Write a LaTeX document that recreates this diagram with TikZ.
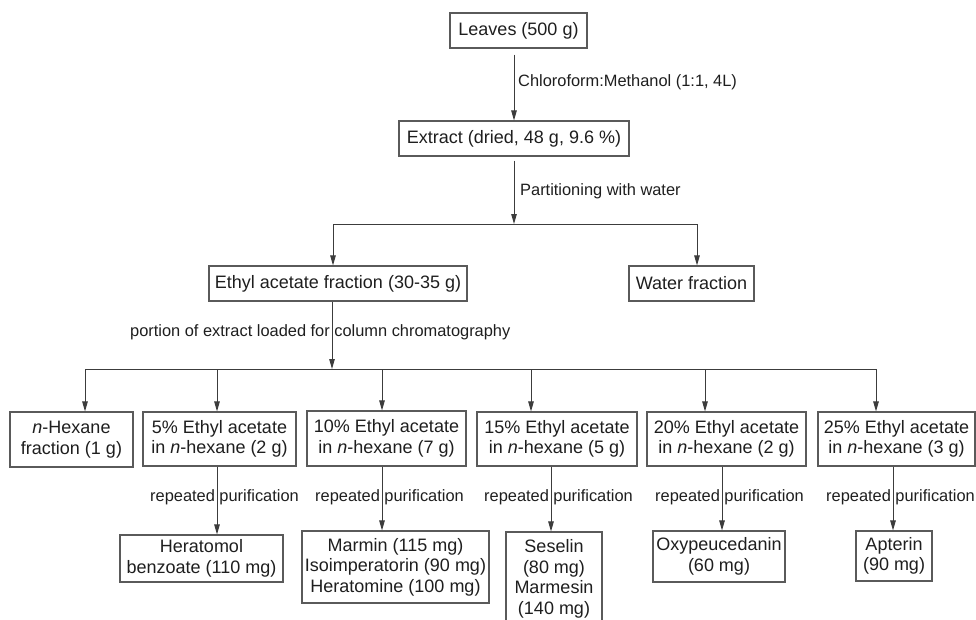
\documentclass[tikz,border=0pt]{standalone}
\usepackage{fontspec}
\setmainfont{Liberation Sans}
\usetikzlibrary{arrows.meta,calc}
\definecolor{boxc}{HTML}{5A5A5A}
\definecolor{linec}{HTML}{3C3C3C}
\definecolor{txt}{HTML}{1E1E1E}
\tikzset{
  box/.style={draw=boxc, line width=1.1pt, inner sep=0pt, align=center, text=txt, font=\fontsize{18}{20.5}\selectfont},
  lab/.style={inner sep=0pt, anchor=west, text=txt, font=\fontsize{16.4}{19}\selectfont},
  conn/.style={draw=linec, line width=1pt},
  arr/.style={conn, -{Triangle[length=10pt,width=5.5pt]}},
}
\begin{document}
\begin{tikzpicture}[x=1pt,y=-1pt]
\useasboundingbox (0,0) rectangle (976,619);
\clip (0,0) rectangle (976,619);
% top part
\node[box,minimum width=137,minimum height=35] (leaves) at (518.5,30.5) {Leaves (500 g)};
\node[box,minimum width=230,minimum height=35] (extract) at (514,138.5) {Extract (dried, 48 g, 9.6 \%)};
\node[box,minimum width=258,minimum height=35] (ethyl) at (338,283.5) {Ethyl acetate fraction (30-35 g)};
\node[box,minimum width=125,minimum height=35] (water) at (691.5,283.5) {Water fraction};
% fractions
\node[box,minimum width=123,minimum height=55] (hex) at (71.5,439.5) {\textit{n}-Hexane\\fraction (1 g)};
\node[box,minimum width=153,minimum height=54] (p5) at (219.5,439) {5\% Ethyl acetate\\in \textit{n}-hexane (2 g)};
\node[box,minimum width=159,minimum height=55] (p10) at (386.5,438.5) {10\% Ethyl acetate\\in \textit{n}-hexane (7 g)};
\node[box,minimum width=160,minimum height=54] (p15) at (557,439) {15\% Ethyl acetate\\in \textit{n}-hexane (5 g)};
\node[box,minimum width=159,minimum height=54] (p20) at (726.5,439) {20\% Ethyl acetate\\in \textit{n}-hexane (2 g)};
\node[box,minimum width=157,minimum height=54] (p25) at (896.5,439) {25\% Ethyl acetate\\in \textit{n}-hexane (3 g)};
% products
\node[box,minimum width=163,minimum height=47] (herat) at (201.5,558.5) {Heratomol\\benzoate (110 mg)};
\node[box,minimum width=187,minimum height=72] (marmin) at (395.5,567) {Marmin (115 mg)\\Isoimperatorin (90 mg)\\Heratomine (100 mg)};
\node[box,minimum width=96,minimum height=94] (seselin) at (554,579) {Seselin\\(80 mg)\\Marmesin\\(140 mg)};
\node[box,minimum width=132,minimum height=51] (oxy) at (719,556.5) {Oxypeucedanin\\(60 mg)};
\node[box,minimum width=76,minimum height=50] (apterin) at (894,556) {Apterin\\(90 mg)};
% labels
\node[lab] (lchl) at (518,82) {Chloroform:Methanol (1:1, 4L)};
\node[lab] (lpart) at (520,191) {Partitioning with water};
\node[lab] (lcol) at (130,332) {portion of extract loaded for column chromatography};
\node[lab] (lr5) at (150,497) {repeated purification};
\node[lab] (lr10) at (315,497) {repeated purification};
\node[lab] (lr15) at (484,497) {repeated purification};
\node[lab] (lr20) at (655,497) {repeated purification};
\node[lab] (lr25) at (826,497) {repeated purification};
% connectors top
\draw[arr] ($(leaves.south -| extract.north)+(0,6)$) -- (extract.north);
\coordinate (s1) at (514,224);
\coordinate (s1L) at (333,224);
\coordinate (s1R) at (697,224);
\draw[arr] ($(extract.south)+(0,4)$) -- (s1);
\draw[conn] (s1L) -- (s1R);
\draw[arr] (s1L) -- (s1L |- ethyl.north);
\draw[arr] (s1R) -- (s1R |- water.north);
% column split
\coordinate (s2) at (332,369);
\draw[arr] (ethyl.south -| s2) -- (s2);
\coordinate (d1) at (85,369);
\coordinate (d2) at (217,369);
\coordinate (d3) at (382,369);
\coordinate (d4) at (531,369);
\coordinate (d5) at (705,369);
\coordinate (d6) at (876,369);
\draw[conn] (d1) -- (d6);
\draw[arr] (d1) -- (d1 |- hex.north);
\draw[arr] (d2) -- (d2 |- p5.north);
\draw[arr] (d3) -- (d3 |- p10.north);
\draw[arr] (d4) -- (d4 |- p15.north);
\draw[arr] (d5) -- (d5 |- p20.north);
\draw[arr] (d6) -- (d6 |- p25.north);
% purification arrows
\coordinate (b5) at (217,0);
\coordinate (b10) at (382,0);
\coordinate (b15) at (551,0);
\coordinate (b20) at (722,0);
\coordinate (b25) at (893,0);
\draw[arr] (p5.south -| b5) -- (herat.north -| b5);
\draw[arr] (p10.south -| b10) -- (marmin.north -| b10);
\draw[arr] (p15.south -| b15) -- (seselin.north -| b15);
\draw[arr] (p20.south -| b20) -- (oxy.north -| b20);
\draw[arr] (p25.south -| b25) -- (apterin.north -| b25);
\end{tikzpicture}
\end{document}
